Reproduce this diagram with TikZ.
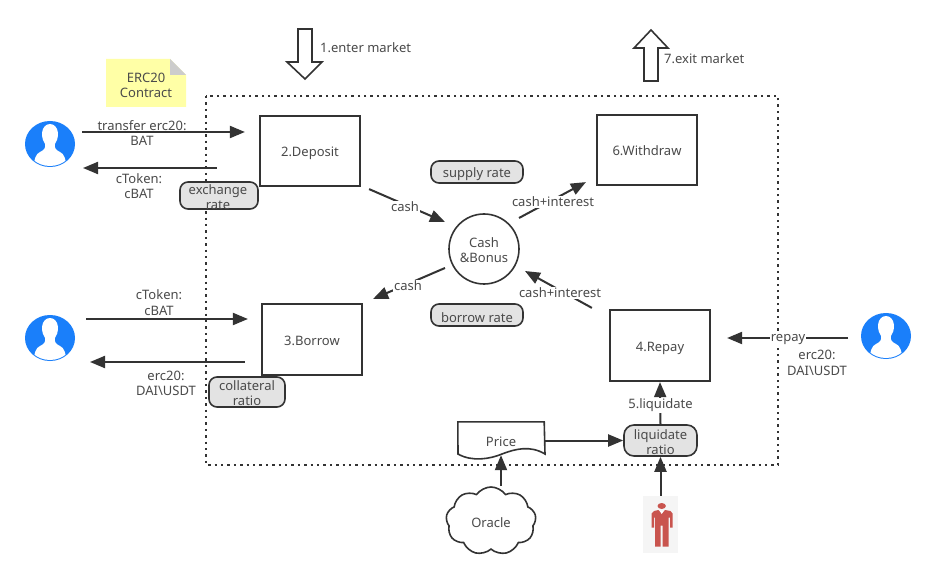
\documentclass[tikz,border=0pt]{standalone}
\usepackage{fontspec}
\setmainfont{Noto Sans}
\usetikzlibrary{arrows.meta,calc,shapes.symbols,shapes.geometric}
\definecolor{ink}{HTML}{333333}
\definecolor{txt}{HTML}{4A4A4A}
\definecolor{pillfill}{HTML}{E3E3E3}
\definecolor{ublue}{HTML}{1A7FFA}
\definecolor{manred}{HTML}{C9544E}
\definecolor{notey}{HTML}{FFFFA6}
\tikzset{
  every node/.style={font=\fontsize{13}{15.5}\selectfont,text=txt,align=center},
  lbl/.style={inner sep=0pt,yshift=-1.5pt},
  wlbl/.style={inner sep=1pt,fill=white,yshift=-1pt},
  boxn/.style={draw=ink,line width=2.2pt,minimum width=100pt,minimum height=70pt,inner sep=0pt,text height=13pt,text depth=2pt},
  pill/.style={draw=ink,line width=1.6pt,fill=pillfill,rounded corners=8pt,inner sep=0pt},
  arr/.style={draw=ink,line width=2pt,-{Triangle[length=15pt,width=12pt]}},
  bigarr/.style={draw=ink,line width=1.6pt,fill=white,line join=miter},
}
\newcommand{\userfig}[3]{%
  \node[ellipse,fill=none,minimum width=50pt,minimum height=46pt,inner sep=0pt] (#1) at (#2,#3) {};
  \begin{scope}[shift={(#2,#3)}]
    \fill[ublue] (0,0) ellipse [x radius=25,y radius=23];
    \begin{scope}
      \clip (0,0) ellipse [x radius=24,y radius=22];
      \fill[white] (-8,-11) .. controls (-7,-23) and (7,-23) .. (8,-11)
        .. controls (8,-6) and (7,-3) .. (5,0)
        .. controls (4,4) and (6,6) .. (10,8)
        .. controls (14,10) and (16,13) .. (17,30)
        -- (-17,30)
        .. controls (-16,13) and (-14,10) .. (-10,8)
        .. controls (-6,6) and (-4,4) .. (-5,0)
        .. controls (-7,-3) and (-8,-6) .. (-8,-11) -- cycle;
    \end{scope}
  \end{scope}}
\begin{document}
\begin{tikzpicture}[x=1pt,y=-1pt]
\useasboundingbox[fill=white] (0,0) rectangle (935,580);

% market boundary
\draw[ink,line width=2pt,dash pattern=on 2.4pt off 4pt] (206,96) rectangle (778,465);

% big arrows
\node[lbl,anchor=west] (enter) at (320,46) {1.enter market};
\node[lbl,anchor=west] (exit) at (664,57) {7.exit market};
\draw[bigarr] (298,29) -- (312,29) -- (312,62) -- (322,62) -- (305,79) -- (287,62) -- (298,62) -- cycle;
\draw[bigarr] (644,81) -- (658,81) -- (658,48) -- (668,48) -- (651,30) -- (634,48) -- (644,48) -- cycle;

% note
\fill[notey] (106,59) -- (170,59) -- (186,75) -- (186,107) -- (106,107) -- cycle;
\fill[black!20] (170,59) -- (186,75) -- (170,75) -- cycle;
\node[lbl] (note) at (146,84) {ERC20\\Contract};

% boxes
\node[boxn] (dep) at (310,151) {2.Deposit};
\node[boxn] (wd) at (647,150) {6.Withdraw};
\node[boxn,minimum height=71pt] (bor) at (312,339.5) {3.Borrow};
\node[boxn,minimum height=71pt] (rep) at (660,345.5) {4.Repay};
\node[circle,draw=ink,line width=1.6pt,minimum size=70pt,inner sep=0pt] (pool) at (484,249) {};
\node[lbl,yshift=0.5pt] at (pool) {Cash\\\&Bonus};

% users
\userfig{u1}{50}{144}
\userfig{u2}{50}{338}
\userfig{u3}{886}{336}

% price and oracle
\node[lbl,yshift=1.5pt,minimum width=86pt,minimum height=37pt] (price) at (501,440.5) {};
\draw[ink,line width=1.6pt,fill=white] (price.north west) -- (price.north east) -- (545,454)
  .. controls (530,445) and (515,449) .. (502,454)
  .. controls (490,459) and (472,462) .. (458,454) -- cycle;
\node[lbl,yshift=0.5pt] at (price) {Price};
\node[cloud,cloud puffs=9,cloud puff arc=110,aspect=1.3,draw=ink,line width=1.6pt,minimum width=90pt,minimum height=68pt,inner sep=0pt,text height=13pt,text depth=0pt] (oracle) at (491,521) {Oracle};

% liquidator
\node[fill=black!4,minimum width=35pt,minimum height=57pt,inner sep=0pt] (man) at (660.5,524.5) {};
\begin{scope}[shift={(man.center)}]
  \fill[manred] (1.2,-18.5) ellipse [x radius=4.2,y radius=3];
  \fill[manred] (-6.5,-13.5) -- (-2,-14.5) -- (1.2,-11) -- (4.5,-14.5) -- (10,-13.5) -- (12,-11) -- (12,3) -- (9.5,3) -- (9.5,-7) -- (8,-7) -- (8,22) -- (2.2,22) -- (2.2,1) -- (0.2,1) -- (0.2,22) -- (-5.5,22) -- (-5.5,-7) -- (-6.5,-7) -- (-6.5,3) -- (-9,3) -- (-9,-11) -- cycle;
  \fill[white] (-1,-14) -- (3.5,-14) -- (1.2,-10.5) -- cycle;
\end{scope}

% rate pills
\node[pill,minimum width=92pt,minimum height=22pt] (sr) at (477,172) {};
\node[lbl,yshift=-1pt] at (sr) {supply rate};
\node[pill,minimum width=92pt,minimum height=22pt] (br) at (477,315) {};
\node[lbl,yshift=-1pt] at (br) {borrow rate};
\node[pill,minimum width=78pt,minimum height=27pt] (ex) at (219,195.5) {};
\node[pill,minimum width=76pt,minimum height=30pt] (col) at (247,392) {};
\node[pill,minimum width=73pt,minimum height=31pt,rounded corners=10pt] (liq) at (660.5,440.5) {};

% connectors
\draw[arr] ($(u1)+(32,-12)$) -- ($(dep.west)+(-14,-19)$);
\draw[arr] ($(dep.west)+(-42,17)$) -- ($(u1)+(33,24)$);
\draw[arr] ($(u2)+(36,-19)$) -- ($(bor.west)+(-13,-20.5)$);
\draw[arr] ($(bor.west)+(-16,22.5)$) -- ($(u2)+(40,24)$);
\draw[arr] ($(u3)+(-38,2)$) -- ($(rep.east)+(16,-7.5)$);
\draw[arr] ($(dep.south east)+(8,2)$) -- ($(pool)+(-39,-27)$);
\draw[arr] ($(pool)+(35,-31)$) -- ($(wd.south west)+(-10,-4)$);
\draw[arr] ($(pool)+(-39,19)$) -- ($(bor.north east)+(10,-4)$);
\draw[arr] ($(rep.north west)+(-17,-1)$) -- ($(pool)+(41,22)$);
\draw[arr] (price.east) -- (liq.west);
\draw[arr] ($(oracle)+(10,-35)$) -- ($(price.south)+(0,-4)$);
\draw[arr] (man.north) -- (liq.south);
\draw[arr] (liq.north) -- (rep.south);

% connector labels
\node[wlbl] (l1) at (405,206) {cash};
\node[wlbl] (l2) at (553,201) {cash+interest};
\node[wlbl] (l3) at (408,285) {cash};
\node[wlbl] (l4) at (560,292) {cash+interest};
\node[wlbl] (l5) at (788,339) {repay};
\node[wlbl] (l6) at (660.5,404) {5.liquidate};
\node[lbl] (t1) at (142,131.5) {transfer erc20:\\BAT};
\node[lbl] (t2) at (139,184.5) {cToken:\\cBAT};
\node[lbl] (t3) at (159,301) {cToken:\\cBAT};
\node[lbl] (t4) at (166,382) {erc20:\\DAI\textbackslash USDT};
\node[lbl] (t5) at (817,361.5) {erc20:\\DAI\textbackslash USDT};

% pill texts
\node[lbl] at (218,195.5) {exchange\\rate};
\node[lbl] at (247,391.5) {collateral\\ratio};
\node[lbl] at (660.5,440.5) {liquidate\\ratio};
\end{tikzpicture}
\end{document}
